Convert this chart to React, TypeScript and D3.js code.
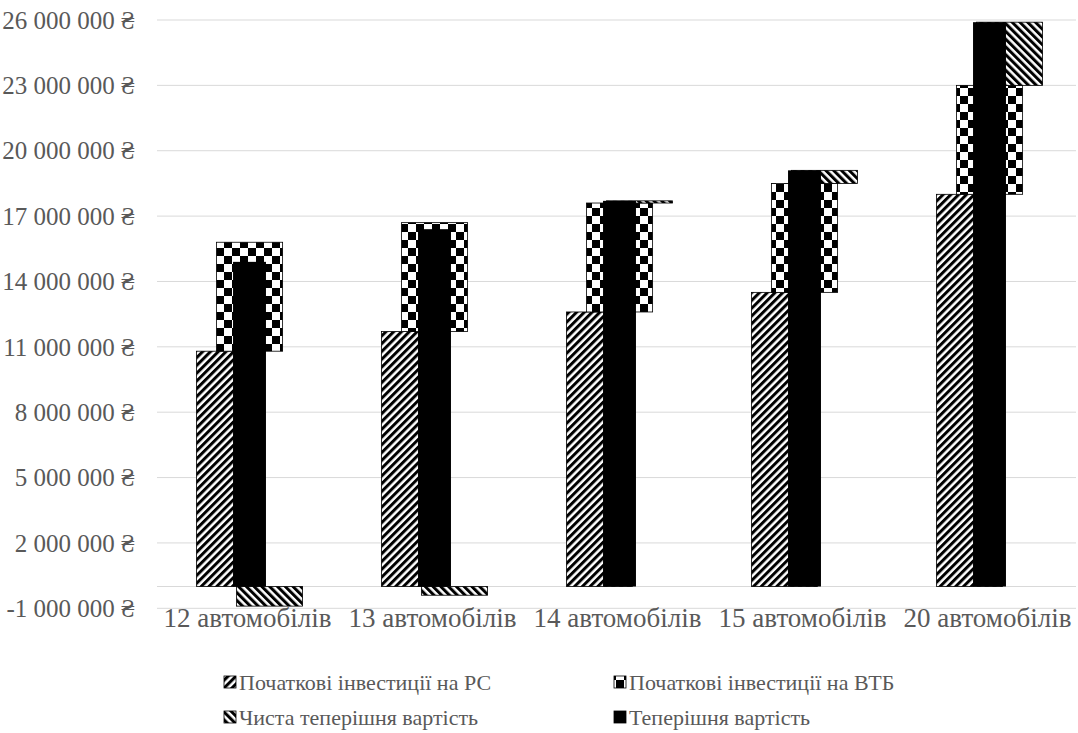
import React from 'react';
import * as d3 from 'd3';

const categories = ['12 автомобілів', '13 автомобілів', '14 автомобілів', '15 автомобілів', '20 автомобілів'];
const investPC = [10800000, 11700000, 12600000, 13500000, 18000000];
const investVTB = [5000000, 5000000, 5000000, 5000000, 5000000];
const netPresentValue = [-900000, -400000, 100000, 600000, 2900000];
const presentValue = [14900000, 16400000, 17700000, 19100000, 25900000];
const yTicks = [-1000000, 2000000, 5000000, 8000000, 11000000, 14000000, 17000000, 20000000, 23000000, 26000000];
const seriesNames = ['Початкові інвестиції на РС', 'Початкові інвестиції на ВТБ', 'Чиста теперішня вартість', 'Теперішня вартість'];

const W = 1078;
const H = 733;
const FONT = "'Liberation Serif', serif";
const TEXT = '#595959';

const fmt = (v: number) => {
  const s = d3.format(',')(Math.abs(v)).replace(/,/g, ' ');
  return (v < 0 ? '-' : '') + s + ' ₴';
};

export default function App() {
  const x = d3.scaleBand<string>().domain(categories).range([157, 1082]).padding(0);
  const y = d3.scaleLinear().domain([-1000000, 26000000]).range([608.3, 20]);
  const bw = x.bandwidth();
  const barW = bw * 0.357;
  const pvW = bw * 0.178;
  const y0 = y(0);

  const fills = ['url(#patPC)', 'url(#patVTB)', 'url(#patNPV)', '#000'];
  const textStyle = { fontFamily: FONT, fill: TEXT } as React.CSSProperties;

  return (
    <svg width={W} height={H} style={{ position: 'absolute', left: 0, top: 0, background: '#fff' }}>
      <defs>
        <pattern id="patPC" patternUnits="userSpaceOnUse" width="5.5" height="5.5" patternTransform="rotate(45)">
          <rect width="5.5" height="5.5" fill="#fff" />
          <rect width="3" height="5.5" fill="#000" />
        </pattern>
        <pattern id="patNPV" patternUnits="userSpaceOnUse" width="5.5" height="5.5" patternTransform="rotate(-45)">
          <rect width="5.5" height="5.5" fill="#fff" />
          <rect width="3" height="5.5" fill="#000" />
        </pattern>
        <pattern id="patVTB" patternUnits="userSpaceOnUse" width="16" height="16">
          <rect width="16" height="16" fill="#fff" />
          <rect x="0" y="0" width="8" height="8" fill="#000" />
          <rect x="8" y="8" width="8" height="8" fill="#000" />
        </pattern>
      </defs>

      {yTicks.map((t) => (
        <g key={t}>
          <line x1={157} x2={1076} y1={y(t)} y2={y(t)} stroke="#d9d9d9" strokeWidth={1} />
          <text x={135} y={y(t)} dy="0.35em" textAnchor="end" fontSize={25} style={textStyle}>
            {fmt(t)}
          </text>
        </g>
      ))}
      <line x1={157} x2={1076} y1={y0} y2={y0} stroke="#d9d9d9" strokeWidth={1} />

      {categories.map((c, i) => {
        const cx = (x(c) as number) + bw / 2;
        const pcTop = investPC[i];
        const vtbTop = pcTop + investVTB[i];
        const npv = netPresentValue[i];
        const npvY1 = npv >= 0 ? y(vtbTop + npv) : y0;
        const npvY2 = npv >= 0 ? y(vtbTop) : y(npv);
        return (
          <g key={c}>
            <rect x={cx - bw * 0.2865} y={y(pcTop)} width={barW} height={y0 - y(pcTop)} fill="url(#patPC)" stroke="#000" strokeWidth={0.8} />
            <rect x={cx - bw * 0.178} y={y(vtbTop)} width={barW} height={y(pcTop) - y(vtbTop)} fill="url(#patVTB)" stroke="#000" strokeWidth={0.8} />
            <rect x={cx - bw * 0.07} y={npvY1} width={barW} height={Math.max(1, npvY2 - npvY1)} fill="url(#patNPV)" stroke="#000" strokeWidth={0.8} />
            <rect x={cx - pvW / 2} y={y(presentValue[i])} width={pvW} height={y0 - y(presentValue[i])} fill="#000" />
            <text x={cx - 2} y={627} textAnchor="middle" fontSize={27} style={textStyle}>
              {c}
            </text>
          </g>
        );
      })}

      {seriesNames.map((name, i) => {
        const col = i % 2;
        const row = Math.floor(i / 2);
        const mx = col === 0 ? 224 : 614;
        const my = row === 0 ? 682 : 717;
        return (
          <g key={name}>
            <rect x={mx} y={my - 6} width={12} height={12} fill={fills[i]} stroke="#000" strokeWidth={0.8} />
            <text x={mx + 15} y={my} dy="0.35em" fontSize={22} style={textStyle}>
              {name}
            </text>
          </g>
        );
      })}
    </svg>
  );
}
